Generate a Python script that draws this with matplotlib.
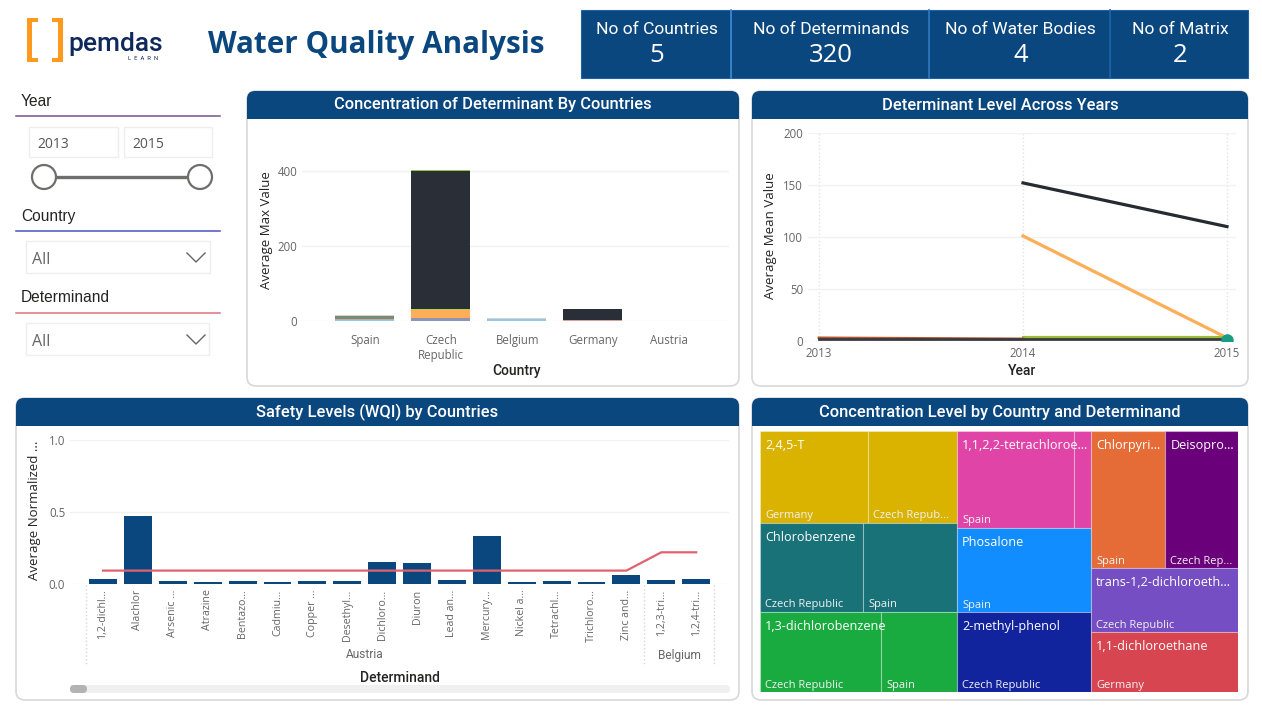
import numpy as np
import matplotlib
matplotlib.use('Agg')
import matplotlib.pyplot as plt
from matplotlib.patches import FancyBboxPatch, Rectangle, Circle

countries = ['Spain', 'Czech\nRepublic', 'Belgium', 'Germany', 'Austria']
conc_light_blue = [1.5, 0, 4, 0, 0]
conc_pink = [3.5, 0, 0, 2, 0]
conc_slate = [0, 6, 0, 0, 0]
conc_teal = [8, 0, 0, 0, 0]
conc_orange = [0, 22, 0, 0, 0]
conc_lime = [0, 2, 0, 0, 0]
conc_dark = [0, 370, 0, 28, 0]
conc_top_lime = [0, 4, 0, 0, 0]
conc_tan = [2, 0, 1.5, 0, 0]

years = [2013, 2014, 2015]
level_dark = [np.nan, 152, 110]
level_orange = [np.nan, 101, 3]
level_green = [np.nan, 4, 4]
level_brown = [3, 2, np.nan]
level_grey = [1.5, 1.5, 1.5]
level_teal = [np.nan, np.nan, 0.5]

determinands = ['1,2-dichl...', 'Alachlor', 'Arsenic ...', 'Atrazine', 'Bentazo...', 'Cadmiu...',
                'Copper ...', 'Desethyl...', 'Dichloro...', 'Diuron', 'Lead an...', 'Mercury...',
                'Nickel a...', 'Tetrachl...', 'Trichloro...', 'Zinc and...', '1,2,3-tri...', '1,2,4-tri...']
wqi_values = [0.032, 0.47, 0.02, 0.016, 0.02, 0.014, 0.018, 0.018, 0.15, 0.143,
              0.03, 0.33, 0.014, 0.018, 0.012, 0.065, 0.028, 0.035]
wqi_line = [0.093] * 16 + [0.22, 0.22]

tree_names = ['2,4,5-T', '', 'Chlorobenzene', '', '1,3-dichlorobenzene', '',
              '1,1,2,2-tetrachloroe...', '', 'Phosalone', '2-methyl-phenol',
              'Chlorpyri...', 'Deisopro...', 'trans-1,2-dichloroeth...', '1,1-dichloroethane']
tree_countries = ['Germany', 'Czech Repub...', 'Czech Republic', 'Spain', 'Czech Republic', 'Spain',
                  'Spain', '', 'Spain', 'Czech Republic',
                  'Spain', 'Czech Rep...', 'Czech Republic', 'Germany']
tree_values = [99, 81.6, 91.7, 83.7, 96.8, 60.8, 113, 16.7, 112.6, 107.2, 101.4, 100, 94, 88.2]
tree_colors = ['#D9B300', '#D9B300', '#197278', '#197278', '#1AAB40', '#1AAB40',
               '#E044A7', '#E044A7', '#118DFF', '#12239E', '#E66C37', '#6B007B', '#744EC2', '#D64550']
# columns > rows > groups > leaf index
tree_layout = [[[[0, 1]], [[2, 3]], [[4, 5]]],
               [[[6, 7]], [[8]], [[9]]],
               [[[10], [11]], [[12]], [[13]]]]

kpi_titles = ['No of Countries', 'No of Determinands', 'No of Water Bodies', 'No of Matrix']
kpi_values = ['5', '320', '4', '2']

NAVY = '#0B477F'
FONT = 'Roboto'
BODY = 'Open Sans'
W, H = 1262, 720

fig = plt.figure(figsize=(W / 100, H / 100), dpi=100, facecolor='white')
bg = fig.add_axes([0, 0, 1, 1], zorder=0)
bg.set_xlim(0, W)
bg.set_ylim(H, 0)
bg.axis('off')


def make_axes(left, top, right, bottom):
    ax = fig.add_axes([left / W, 1 - bottom / H, (right - left) / W, (bottom - top) / H], zorder=2)
    ax.patch.set_alpha(0)
    for s in ax.spines.values():
        s.set_visible(False)
    ax.tick_params(length=0, labelcolor='#666666', labelsize=8.3)
    for lab in ax.get_xticklabels() + ax.get_yticklabels():
        lab.set_family(BODY)
    return ax


def panel(left, top, right, bottom, title):
    bg.add_patch(FancyBboxPatch((left, top), right - left, bottom - top, boxstyle='round,pad=0,rounding_size=9',
                                fc='white', ec='#D8D8D8', lw=1.2))
    bg.add_patch(FancyBboxPatch((left, top), right - left, 24, boxstyle='round,pad=0,rounding_size=8',
                                fc=NAVY, ec='none'))
    bg.add_patch(Rectangle((left, top + 12), right - left, 16, fc=NAVY, ec='none'))
    bg.text((left + right) / 2, top + 14, title, color='white', family=FONT, weight='medium', fontsize=11.9,
            ha='center', va='center')


def axis_titles(ax, xlabel, xpos, ylabel, ypos):
    ax.set_xlabel(xlabel, family=FONT, weight='medium', fontsize=10, color='#252423')
    ax.xaxis.set_label_coords(xpos[0], xpos[1], transform=bg.transData)
    ax.set_ylabel(ylabel, family=BODY, fontsize=9.5, color='#252423')
    ax.yaxis.set_label_coords(ypos[0], ypos[1], transform=bg.transData)


# Logo and title
for x0, x1, inner in [(27, 38, 'left'), (52, 63, 'right')]:
    bar_x = x0 if inner == 'left' else x1 - 5
    bg.add_patch(Rectangle((bar_x, 18), 5, 44, fc='#FF9A1F', ec='none'))
    bg.add_patch(Rectangle((x0, 18), x1 - x0, 4, fc='#FF9A1F', ec='none'))
    bg.add_patch(Rectangle((x0, 58), x1 - x0, 4, fc='#FF9A1F', ec='none'))
bg.text(68, 51, 'pemdas', family=FONT, weight='medium', fontsize=19, color='#10295C', va='baseline')
bg.text(128, 60, 'L  E  A  R  N', family=FONT, fontsize=4.2, color='#10295C', va='baseline')
bg.text(208, 53, 'Water Quality Analysis', family=BODY, weight='bold', fontsize=21.3, color=NAVY, va='baseline')

# KPI cards
kpi_edges = [581, 731, 929, 1110, 1248]
for i in range(4):
    bg.add_patch(Rectangle((kpi_edges[i], 10), kpi_edges[i + 1] - kpi_edges[i], 68, fc=NAVY, ec='#1C62A8', lw=0.8))
    mid = (kpi_edges[i] + kpi_edges[i + 1]) / 2
    bg.text(mid + 1, 29, kpi_titles[i], color='white', family=FONT, fontsize=12.6, ha='center', va='center')
    bg.text(mid + 1, 55, kpi_values[i], color='white', family=BODY, fontsize=18.5, ha='center', va='center')
for x, col in zip(kpi_edges[1:-1], ['#3F8AD4', '#2E77BE', '#1C62A8']):
    bg.plot([x, x], [10, 78], color=col, lw=1.2)

# Slicers
for label, y, line_col in [('Year', 101, '#7A4F92'), ('Country', 216, '#4A4FC0'), ('Determinand', 298, '#E0707A')]:
    bg.text(21, y, label, family='Liberation Sans', fontsize=11.2, color='#252423', va='center')
    bg.plot([16, 220], [y + 15, y + 15], color=line_col, lw=1.1)
for x0, x1, txt in [(29, 118, '2013'), (124, 212, '2015')]:
    bg.add_patch(Rectangle((x0, 127), x1 - x0, 30, fc='white', ec='#EEEEEE', lw=1))
    bg.text(x0 + 8, 144, txt, family=BODY, fontsize=10, color='#555555', va='center')
bg.plot([44, 200], [177, 177], color='#6E6E6A', lw=2.4, zorder=2)
for cx in [44, 200]:
    bg.add_patch(Circle((cx, 177), 12, fc='white', ec='#6E6E6A', lw=1.6, zorder=3))
for y0, x1 in [(241, 210), (323, 209)]:
    bg.add_patch(Rectangle((26, y0), x1 - 26, 32, fc='white', ec='#EEEEEE', lw=1))
    bg.text(32, y0 + 19, 'All', family=BODY, fontsize=11.5, color='#666666', va='center')
    bg.plot([187, 196, 205], [y0 + 12, y0 + 21, y0 + 12], color='#666666', lw=1)

# Panels
panel(247, 91, 739, 386, 'Concentration of Determinant By Countries')
panel(752, 91, 1248, 386, 'Determinant Level Across Years')
panel(16, 398, 739, 700, 'Safety Levels (WQI) by Countries')
panel(752, 398, 1248, 700, 'Concentration Level by Country and Determinand')

# Stacked bars
ax1 = make_axes(302, 133, 729, 320.5)
pos = np.arange(len(countries))
stack = np.zeros(len(countries))
for vals, col in [(conc_light_blue, '#93C9E8'), (conc_pink, '#D9A09A'), (conc_slate, '#8E93B8'), (conc_teal, '#6F8F7E'),
                  (conc_orange, '#FFAE57'), (conc_lime, '#B5D24C'), (conc_dark, '#2A2E36'), (conc_top_lime, '#9DBF45'),
                  (conc_tan, '#DAD3C2')]:
    ax1.bar(pos, vals, 0.775, bottom=stack, color=col)
    stack = stack + np.array(vals)
ax1.set_xlim(-0.816, 4.8)
ax1.set_ylim(0, 502)
ax1.set_yticks([0, 200, 400])
ax1.set_xticks(pos + 0.015, countries, family=BODY)
ax1.tick_params(axis='x', pad=10)
ax1.grid(axis='y', color='#F2F2F2', lw=1)
ax1.set_axisbelow(True)
axis_titles(ax1, 'Country', (517, 364), 'Average Max Value', (273, 230))

# Lines
ax2 = make_axes(808, 133, 1236, 341)
ax2.plot(years, level_dark, color='#252A33', lw=2.3)
ax2.plot(years, level_orange, color='#FFAE57', lw=2.3)
ax2.plot(years, level_green, color='#9BBB3B', lw=2.3)
ax2.plot(years, level_brown, color='#B5562F', lw=2)
ax2.plot(years, level_grey, color='#3A3A40', lw=2)
ax2.plot(years, level_teal, color='#1A9C84', marker='o', ms=8)
ax2.set_xlim(2013 - 11 / 204, 2015 + 9 / 204)
ax2.set_ylim(0, 200)
ax2.set_xticks(years)
ax2.set_yticks([0, 50, 100, 150, 200])
ax2.tick_params(axis='x', pad=4)
ax2.grid(axis='y', color='#F2F2F2', lw=1)
ax2.grid(axis='x', color='#E2E2E2', lw=1, ls=':')
ax2.set_axisbelow(True)
axis_titles(ax2, 'Year', (1022, 364), 'Average Mean Value', (777, 236))

# Bars with WQI line
ax3 = make_axes(70, 440, 729, 584)
pos3 = np.arange(len(determinands))
ax3.bar(pos3, wqi_values, 0.8, color=NAVY)
ax3.plot(pos3, wqi_line, color='#E0626E', lw=1.6)
ax3.set_xlim(-0.946, 17.94)
ax3.set_ylim(0, 1)
ax3.set_yticks([0, 0.5, 1], ['0.0', '0.5', '1.0'])
ax3.set_xticks(pos3, determinands, rotation=90, family=BODY, fontsize=7.7)
ax3.tick_params(axis='x', pad=4)
ax3.grid(axis='y', color='#F2F2F2', lw=1)
ax3.set_axisbelow(True)
axis_titles(ax3, 'Determinand', (400, 671), 'Average Normalized ...', (41, 510))
for x in [86, 644, 714]:
    bg.plot([x, x], [585, 665], color='#D6D6D6', lw=1, ls=':', zorder=1)
bg.text(365, 655, 'Austria', family=FONT, fontsize=8.6, color='#666666', ha='center', va='center')
bg.text(679, 655, 'Belgium', family=FONT, fontsize=8.6, color='#666666', ha='center', va='center')
bg.add_patch(FancyBboxPatch((70, 685), 660, 8, boxstyle='round,pad=0,rounding_size=4', fc='#F0F0F0', ec='none'))
bg.add_patch(FancyBboxPatch((70, 685), 17, 8, boxstyle='round,pad=0,rounding_size=4', fc='#B3B3B3', ec='none'))

# Treemap, nested slices sized from the values
ax4 = make_axes(760, 431, 1238, 692)
ax4.set_xlim(0, 1)
ax4.set_ylim(1, 0)
ax4.set_xticks([])
ax4.set_yticks([])
vals = np.array(tree_values)
total = vals.sum()
col_x = 0
for column in tree_layout:
    col_sum = sum(vals[i] for row in column for grp in row for i in grp)
    col_w = col_sum / total
    row_y = 0
    for row in column:
        row_sum = sum(vals[i] for grp in row for i in grp)
        row_h = row_sum / col_sum
        x = col_x
        for grp in row:
            for i in grp:
                w = col_w * vals[i] / row_sum
                ax4.add_patch(Rectangle((x, row_y), w, row_h, fc=tree_colors[i], ec=(1, 1, 1, 0.3), lw=0.8))
                ax4.annotate(tree_names[i], (x, row_y), xytext=(3.8, -10.5), textcoords='offset points',
                             color='white', family=BODY, fontsize=9.1, va='center', annotation_clip=False)
                ax4.annotate(tree_countries[i], (x, row_y + row_h), xytext=(3.8, 5), textcoords='offset points',
                             color='#F2F2F2', family=BODY, fontsize=8, va='center')
                x += w
        row_y += row_h
    col_x += col_w

fig.savefig('out.png', dpi=100, facecolor='white')
